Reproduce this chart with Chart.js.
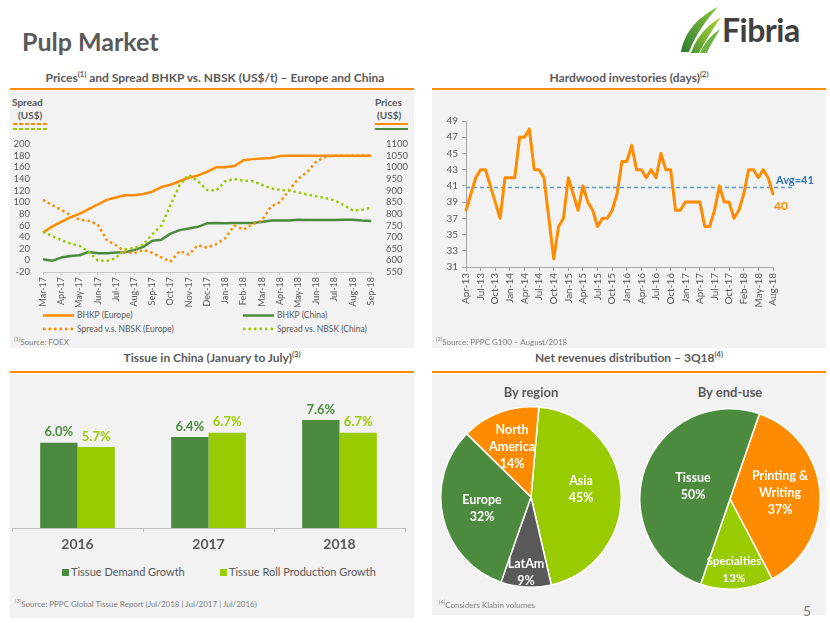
<!DOCTYPE html>
<html>
<head>
<meta charset="utf-8">
<script src="https://cdn.jsdelivr.net/npm/chart.js@4.4.0/dist/chart.umd.min.js"></script>
<style>
body { margin: 0; background: #fff; font-family: Lato, 'Open Sans', sans-serif; color: #595959; }
#page { position: relative; width: 830px; height: 623px; overflow: hidden; background: #fff; }
.panel { position: absolute; background: #f2f2f2; }
.rule { position: absolute; height: 2px; background: #ff8c00; }
.ptitle { position: absolute; font-size: 12px; font-weight: bold; color: #595959; text-align: center; white-space: nowrap; line-height: 14px; }
.ptitle sup { font-size: 7.5px; line-height: 0; }
.src { position: absolute; font-size: 8px; color: #7f7f7f; white-space: nowrap; }
.src sup { font-size: 5.5px; line-height: 0; }
.lbl { position: absolute; white-space: nowrap; }
canvas { position: absolute; }
.key { position: absolute; }
</style>
</head>
<body>
<div id="page">

  <div class="lbl" style="left:22px;top:26px;font-size:25px;font-weight:bold;color:#595959;">Pulp Market</div>

  <svg class="key" style="left:676px;top:4px" width="48" height="52" viewBox="0 0 48 52">
    <defs>
      <linearGradient id="lg1" x1="0" y1="1" x2="1" y2="0">
        <stop offset="0" stop-color="#2f7d32"/>
        <stop offset="1" stop-color="#8dc63f"/>
      </linearGradient>
      <linearGradient id="lg2" x1="0" y1="1" x2="1" y2="0">
        <stop offset="0" stop-color="#4e9a2e"/>
        <stop offset="1" stop-color="#b5d334"/>
      </linearGradient>
    </defs>
    <path d="M5 48 C 8 30, 20 14, 42 3 C 30 16, 20 30, 13 48 Z" fill="url(#lg1)"/>
    <path d="M15 49 C 20 34, 30 22, 45 13 C 37 25, 29 37, 23 49 Z" fill="url(#lg2)"/>
    <path d="M24 49 C 28 40, 34 32, 44 25 C 39 34, 34 41, 31 49 Z" fill="#6cb33f"/>
  </svg>
  <div class="lbl" style="left:722px;top:10px;font-size:32px;font-weight:bold;color:#404040;letter-spacing:-0.5px;">Fibria</div>

  <!-- top left panel -->
  <div class="ptitle" style="left:10px;width:410px;top:71px;">Prices<sup>(1)</sup> and Spread BHKP vs. NBSK (US$/t) – Europe and China</div>
  <div class="rule" style="left:10px;top:88px;width:404px;"></div>
  <div class="panel" style="left:10px;top:91px;width:404px;height:257px;"></div>

  <!-- top right panel -->
  <div class="ptitle" style="left:432px;width:394px;top:71px;">Hardwood investories (days)<sup>(2)</sup></div>
  <div class="rule" style="left:432px;top:88px;width:394px;"></div>
  <div class="panel" style="left:432px;top:91px;width:394px;height:257px;"></div>

  <!-- bottom left panel -->
  <div class="ptitle" style="left:10px;width:404px;top:351px;">Tissue in China (January to July)<sup>(3)</sup></div>
  <div class="rule" style="left:10px;top:371px;width:404px;"></div>
  <div class="panel" style="left:10px;top:374px;width:404px;height:244px;"></div>

  <!-- bottom right panel -->
  <div class="ptitle" style="left:432px;width:394px;top:351px;">Net revenues distribution – 3Q18<sup>(4)</sup></div>
  <div class="rule" style="left:432px;top:371px;width:394px;"></div>
  <div class="panel" style="left:432px;top:374px;width:394px;height:241px;"></div>

  <!-- axis captions, prices chart -->
  <div class="lbl" style="left:12px;top:96px;font-size:10px;font-weight:bold;">Spread</div>
  <div class="lbl" style="left:18px;top:109px;font-size:10px;font-weight:bold;">(US$)</div>
  <svg class="key" style="left:13px;top:122px" width="34" height="10">
    <line x1="0" y1="2" x2="34" y2="2" stroke="#ff8c00" stroke-width="2" stroke-dasharray="4,2"/>
    <line x1="0" y1="7" x2="34" y2="7" stroke="#99cc00" stroke-width="2" stroke-dasharray="4,2"/>
  </svg>
  <div class="lbl" style="left:375px;top:96px;font-size:10px;font-weight:bold;">Prices</div>
  <div class="lbl" style="left:377px;top:109px;font-size:10px;font-weight:bold;">(US$)</div>
  <svg class="key" style="left:375px;top:122px" width="34" height="10">
    <line x1="0" y1="2" x2="33" y2="2" stroke="#ff8c00" stroke-width="2"/>
    <line x1="0" y1="7" x2="33" y2="7" stroke="#4c8b3e" stroke-width="2"/>
  </svg>

  <canvas id="pricesChart" width="402" height="215" style="left:12px;top:92px;"></canvas>

  <!-- legend, prices chart -->
  <svg class="key" style="left:43px;top:310px" width="34" height="24">
    <line x1="0" y1="5.5" x2="31" y2="5.5" stroke="#ff8c00" stroke-width="2.5"/>
    <line x1="0" y1="19" x2="30" y2="19" stroke="#ff8c00" stroke-width="2.5" stroke-dasharray="2.5,3"/>
  </svg>
  <div class="lbl" style="left:77px;top:310px;font-size:8.5px;">BHKP (Europe)</div>
  <div class="lbl" style="left:77px;top:324px;font-size:8.5px;">Spread v.s. NBSK (Europe)</div>
  <svg class="key" style="left:243px;top:310px" width="34" height="24">
    <line x1="0" y1="5.5" x2="31" y2="5.5" stroke="#4c8b3e" stroke-width="2.5"/>
    <line x1="0" y1="19" x2="30" y2="19" stroke="#99cc00" stroke-width="2.5" stroke-dasharray="2.5,3"/>
  </svg>
  <div class="lbl" style="left:277px;top:310px;font-size:8.5px;">BHKP (China)</div>
  <div class="lbl" style="left:277px;top:324px;font-size:8.5px;">Spread vs. NBSK (China)</div>
  <div class="src" style="left:14px;top:337px;"><sup>(1)</sup>Source: FOEX</div>

  <canvas id="invChart" width="394" height="255" style="left:432px;top:92px;"></canvas>
  <div class="src" style="left:436px;top:337px;"><sup>(2)</sup>Source: PPPC G100 – August/2018</div>

  <canvas id="tissueChart" width="400" height="180" style="left:12px;top:375px;"></canvas>
  <div class="key" style="left:62px;top:569px;width:7px;height:7px;background:#4c8b3e;"></div>
  <div class="lbl" style="left:71px;top:565px;font-size:11px;">Tissue Demand Growth</div>
  <div class="key" style="left:220px;top:569px;width:7px;height:7px;background:#99cc00;"></div>
  <div class="lbl" style="left:229px;top:565px;font-size:11px;">Tissue Roll Production Growth</div>
  <div class="src" style="left:15px;top:599px;"><sup>(3)</sup>Source: PPPC Global Tissue Report (Jul/2018 | Jul/2017 | Jul/2016)</div>

  <div class="lbl" style="left:480px;width:102px;text-align:center;top:384px;font-size:13px;font-weight:bold;">By region</div>
  <div class="lbl" style="left:679px;width:102px;text-align:center;top:384px;font-size:13px;font-weight:bold;">By end-use</div>
  <canvas id="regionChart" width="182" height="182" style="left:440px;top:406px;"></canvas>
  <canvas id="useChart" width="182" height="182" style="left:639px;top:408px;"></canvas>
  <div class="src" style="left:439px;top:600px;"><sup>(4)</sup>Considers Klabin volumes</div>

  <div class="lbl" style="left:803px;top:602px;font-size:14px;color:#7f7f7f;">5</div>
</div>

<script>
// ---- Prices and spread (half-month steps, Mar-17 .. Sep-18)
var priceMonths = ['Mar-17', 'Apr-17', 'May-17', 'Jun-17', 'Jul-17', 'Aug-17', 'Sep-17', 'Oct-17', 'Nov-17', 'Dec-17',
	'Jan-18', 'Feb-18', 'Mar-18', 'Apr-18', 'May-18', 'Jun-18', 'Jul-18', 'Aug-18', 'Sep-18'];
var bhkpEurope = [720, 745, 765, 785, 800, 820, 840, 860, 870, 880, 880, 885, 895, 915, 925, 940, 955, 965, 980, 1000,
	1000, 1005, 1030, 1035, 1038, 1040, 1048, 1050, 1050, 1050, 1050, 1050, 1050, 1050, 1050, 1050, 1050];
var bhkpChina = [605, 598, 612, 619, 622, 636, 631, 631, 634, 635, 644, 658, 684, 689, 715, 730, 737, 744, 759, 761,
	760, 761, 761, 761, 765, 771, 771, 771, 775, 773, 773, 773, 773, 775, 775, 771, 769];
var spreadEurope = [104, 95, 87, 78, 70, 68, 62, 35, 26, 15, 12, 18, 13, 5, -2, 16, 10, 26, 22, 28,
	38, 60, 53, 62, 68, 92, 100, 120, 140, 152, 170, 178, 180, 180, 180, 180, 180];
var spreadChina = [49, 42, 35, 29, 25, 15, 0, -1, 4, 19, 21, 27, 45, 60, 95, 130, 147, 136, 121, 120,
	136, 140, 137, 136, 130, 124, 121, 120, 117, 113, 110, 107, 103, 95, 86, 87, 90];
var spreadTicks = { min: -20, max: 200, step: 20 };
var priceTicks = { min: 550, max: 1100, step: 50 };

// ---- Hardwood inventories (days)
var invMonths = ['Apr-13', 'May-13', 'Jun-13', 'Jul-13', 'Aug-13', 'Sep-13', 'Oct-13', 'Nov-13', 'Dec-13',
	'Jan-14', 'Feb-14', 'Mar-14', 'Apr-14', 'May-14', 'Jun-14', 'Jul-14', 'Aug-14', 'Sep-14', 'Oct-14', 'Nov-14', 'Dec-14',
	'Jan-15', 'Feb-15', 'Mar-15', 'Apr-15', 'May-15', 'Jun-15', 'Jul-15', 'Aug-15', 'Sep-15', 'Oct-15', 'Nov-15', 'Dec-15',
	'Jan-16', 'Feb-16', 'Mar-16', 'Apr-16', 'May-16', 'Jun-16', 'Jul-16', 'Aug-16', 'Sep-16', 'Oct-16', 'Nov-16', 'Dec-16',
	'Jan-17', 'Feb-17', 'Mar-17', 'Apr-17', 'May-17', 'Jun-17', 'Jul-17', 'Aug-17', 'Sep-17', 'Oct-17', 'Nov-17', 'Dec-17',
	'Feb-18', 'Mar-18', 'Apr-18', 'May-18', 'Jun-18', 'Jul-18', 'Aug-18'];
var invDays = [38, 40, 42, 43, 43, 41, 39, 37, 42, 42, 42, 47, 47, 48, 43, 43, 42, 37, 32, 36,
	37, 42, 40, 38, 41, 39, 38, 36, 37, 37, 38, 40, 44, 44, 46, 43, 43, 42, 43, 42,
	45, 43, 43, 38, 38, 39, 39, 39, 39, 36, 36, 38, 41, 39, 39, 37, 38, 40, 43, 43,
	42, 43, 42, 40];
var invAvg = 40.8;
var invAvgText = 'Avg=41';
var invTicks = { min: 31, max: 49, step: 2 };

// ---- Tissue in China
var tissueYears = ['2016', '2017', '2018'];
var tissueDemand = [6.0, 6.4, 7.6];
var tissueRoll = [5.7, 6.7, 6.7];

// ---- Net revenues 3Q18
var regionNames = ['Asia', 'LatAm', 'Europe', 'North\nAmerica'];
var regionShare = [45, 9, 32, 14];
var useNames = ['Printing &\nWriting', 'Specialties', 'Tissue'];
var useShare = [37, 13, 50];

var ORANGE = '#ff8c00';
var GREEN = '#4c8b3e';
var LIME = '#99cc00';
var DARKGRAY = '#595959';
var FONT = "Lato, 'Open Sans', sans-serif";

Chart.defaults.font.family = FONT;
Chart.defaults.color = '#595959';

// half-month category labels
var halfLabels = [];
priceMonths.forEach(function(m, i) {
	halfLabels.push(m);
	if (i < priceMonths.length - 1) halfLabels.push('');
});

function plainNumber(v) { return String(v); }

new Chart(document.getElementById('pricesChart'), {
	type: 'line',
	data: {
		labels: halfLabels,
		datasets: [
			{ label: 'Spread vs. NBSK (China)', data: spreadChina, yAxisID: 'y', borderColor: LIME, borderWidth: 2.5, borderDash: [2.5, 3] },
			{ label: 'Spread v.s. NBSK (Europe)', data: spreadEurope, yAxisID: 'y', borderColor: ORANGE, borderWidth: 2.5, borderDash: [2.5, 3] },
			{ label: 'BHKP (China)', data: bhkpChina, yAxisID: 'y1', borderColor: GREEN, borderWidth: 2.5 },
			{ label: 'BHKP (Europe)', data: bhkpEurope, yAxisID: 'y1', borderColor: ORANGE, borderWidth: 2.5 }
		]
	},
	options: {
		responsive: false,
		animation: false,
		elements: { point: { radius: 0 }, line: { tension: 0, borderJoinStyle: 'round' } },
		layout: { padding: { top: 52 } },
		plugins: { legend: { display: false }, tooltip: { enabled: false } },
		scales: {
			x: {
				grid: { drawOnChartArea: false, tickLength: 3, color: function(c) { return c.index % 2 === 0 ? '#c8c8c8' : 'rgba(0,0,0,0)'; } },
				border: { color: '#c8c8c8', dash: [2, 2] },
				ticks: { autoSkip: false, minRotation: 90, maxRotation: 90, font: { size: 9 }, padding: 2 },
				afterFit: function(s) { s.height = 35; }
			},
			y: {
				position: 'left', min: spreadTicks.min, max: spreadTicks.max,
				ticks: { stepSize: spreadTicks.step, autoSkip: false, font: { size: 9.5 }, padding: 5, callback: plainNumber },
				grid: { display: false }, border: { display: false },
				afterFit: function(s) { s.width = 31; }
			},
			y1: {
				position: 'right', min: priceTicks.min, max: priceTicks.max,
				ticks: { stepSize: priceTicks.step, autoSkip: false, font: { size: 9.5 }, padding: 7, callback: plainNumber },
				grid: { display: false }, border: { display: false },
				afterFit: function(s) { s.width = 43; }
			}
		}
	}
});

var avgLinePlugin = {
	id: 'avgLine',
	beforeDatasetsDraw: function(chart) {
		var ctx = chart.ctx, area = chart.chartArea;
		var y = chart.scales.y.getPixelForValue(invAvg);
		ctx.save();
		ctx.strokeStyle = '#5b9bd5';
		ctx.lineWidth = 1.5;
		ctx.setLineDash([4, 3]);
		ctx.beginPath();
		ctx.moveTo(area.left, y);
		ctx.lineTo(area.right + 22, y);
		ctx.stroke();
		ctx.restore();
	},
	afterDatasetsDraw: function(chart) {
		var ctx = chart.ctx, area = chart.chartArea;
		var y = chart.scales.y.getPixelForValue(invAvg);
		var pts = chart.getDatasetMeta(0).data;
		var last = pts[pts.length - 1];
		ctx.save();
		ctx.textBaseline = 'middle';
		ctx.textAlign = 'left';
		ctx.font = 'bold 11px ' + FONT;
		ctx.fillStyle = '#2e75b6';
		ctx.fillText(invAvgText, area.right + 3, y - 7);
		ctx.font = 'bold 12px ' + FONT;
		ctx.fillStyle = ORANGE;
		ctx.fillText(String(invDays[invDays.length - 1]), last.x + 1, last.y + 12);
		ctx.restore();
	}
};

new Chart(document.getElementById('invChart'), {
	type: 'line',
	data: {
		labels: invMonths,
		datasets: [{ label: 'Days', data: invDays, borderColor: ORANGE, borderWidth: 3 }]
	},
	options: {
		responsive: false,
		animation: false,
		elements: { point: { radius: 0 }, line: { tension: 0, borderJoinStyle: 'round', borderCapStyle: 'round' } },
		layout: { padding: { top: 29, right: 53, bottom: 40 } },
		plugins: { legend: { display: false }, tooltip: { enabled: false } },
		scales: {
			x: {
				grid: { drawOnChartArea: false, tickLength: 4, color: function(c) { return c.index % 3 === 0 ? '#a6a6a6' : 'rgba(0,0,0,0)'; } },
				border: { color: '#a6a6a6' },
				ticks: {
					autoSkip: false, minRotation: 90, maxRotation: 90, font: { size: 10 }, padding: 2,
					callback: function(v, i) { return i % 3 === 0 ? invMonths[i] : ''; }
				},
				afterFit: function(s) { s.height = 40; }
			},
			y: {
				min: invTicks.min, max: invTicks.max,
				ticks: { stepSize: invTicks.step, autoSkip: false, font: { size: 10 }, padding: 4 },
				grid: { drawOnChartArea: false, tickLength: 4, color: '#a6a6a6' },
				border: { color: '#a6a6a6' },
				afterFit: function(s) { s.width = 34; }
			}
		}
	},
	plugins: [avgLinePlugin]
});

var barValuePlugin = {
	id: 'barValues',
	afterDatasetsDraw: function(chart) {
		var ctx = chart.ctx;
		ctx.save();
		ctx.font = 'bold 13px ' + FONT;
		ctx.textAlign = 'center';
		ctx.textBaseline = 'bottom';
		chart.data.datasets.forEach(function(ds, di) {
			chart.getDatasetMeta(di).data.forEach(function(bar, i) {
				ctx.fillStyle = ds.backgroundColor;
				ctx.fillText(ds.data[i].toFixed(1) + '%', bar.x, bar.y - 4);
			});
		});
		ctx.restore();
	}
};

new Chart(document.getElementById('tissueChart'), {
	type: 'bar',
	data: {
		labels: tissueYears,
		datasets: [
			{ label: 'Tissue Demand Growth', data: tissueDemand, backgroundColor: GREEN },
			{ label: 'Tissue Roll Production Growth', data: tissueRoll, backgroundColor: LIME }
		]
	},
	options: {
		responsive: false,
		animation: false,
		layout: { padding: { top: 25, right: 7 } },
		datasets: { bar: { categoryPercentage: 0.57, barPercentage: 1.0 } },
		plugins: { legend: { display: false }, tooltip: { enabled: false } },
		scales: {
			x: {
				grid: { drawOnChartArea: false, tickLength: 4, color: '#bfbfbf' },
				border: { color: '#bfbfbf' },
				ticks: { font: { size: 14, weight: 'bold' }, color: '#595959', padding: 4 },
				afterFit: function(s) { s.height = 27; }
			},
			y: { display: false, min: 0, max: 9 }
		}
	},
	plugins: [barValuePlugin]
});

function makePieText(names, shares, offsets, sizes) {
	return {
		id: 'pieText',
		afterDatasetsDraw: function(chart) {
			var ctx = chart.ctx;
			var arc = chart.getDatasetMeta(0).data[0];
			ctx.save();
			ctx.fillStyle = '#fff';
			ctx.textAlign = 'center';
			ctx.textBaseline = 'middle';
			names.forEach(function(name, i) {
				var lines = name.split('\n').concat([shares[i] + '%']);
				var lh = 17;
				var x = arc.x + offsets[i][0];
				var y0 = arc.y + offsets[i][1] - (lines.length - 1) * lh / 2;
				ctx.font = 'bold ' + sizes[i] + 'px ' + FONT;
				lines.forEach(function(t, k) { ctx.fillText(t, x, y0 + k * lh); });
			});
			ctx.restore();
		}
	};
}

new Chart(document.getElementById('regionChart'), {
	type: 'pie',
	data: {
		labels: regionNames,
		datasets: [{ data: regionShare, backgroundColor: [LIME, DARKGRAY, GREEN, ORANGE], borderColor: '#fff', borderWidth: 1.5 }]
	},
	options: {
		responsive: false,
		animation: false,
		rotation: 5,
		plugins: { legend: { display: false }, tooltip: { enabled: false } }
	},
	plugins: [makePieText(regionNames, regionShare, [[50, -8], [-5, 75], [-49, 11], [-19, -50]], [12.5, 12.5, 12.5, 12.5])]
});

new Chart(document.getElementById('useChart'), {
	type: 'pie',
	data: {
		labels: useNames,
		datasets: [{ data: useShare, backgroundColor: [ORANGE, LIME, GREEN], borderColor: '#fff', borderWidth: 1.5 }]
	},
	options: {
		responsive: false,
		animation: false,
		rotation: 19,
		plugins: { legend: { display: false }, tooltip: { enabled: false } }
	},
	plugins: [makePieText(useNames, useShare, [[50, -6], [4, 71], [-37, -13]], [12.5, 11.5, 12.5])]
});
</script>
</body>
</html>
